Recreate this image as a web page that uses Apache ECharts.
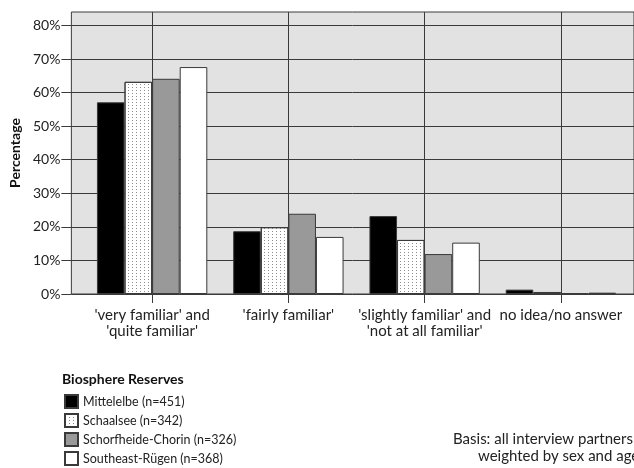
<!DOCTYPE html>
<html><head><meta charset="utf-8">
<script src="https://cdn.jsdelivr.net/npm/echarts@6/dist/echarts.min.js"></script>
<style>html,body{margin:0;padding:0;background:#fff}#c{width:634px;height:468px}</style>
</head><body><div id="c"></div>
<script>
const categories = ["'very familiar' and\n'quite familiar'", "'fairly familiar'", "'slightly familiar' and\n'not at all familiar'", "no idea/no answer"];
const seriesNames = ["Mittelelbe (n=451)", "Schaalsee (n=342)", "Schorfheide-Chorin (n=326)", "Southeast-Rügen (n=368)"];
const mittelelbe = [57.1, 18.7, 23.2, 1.3];
const schaalsee = [63.2, 19.9, 16.1, 0.6];
const schorfheide = [64.1, 23.9, 11.9, 0.2];
const ruegen = [67.6, 17.0, 15.3, 0.4];
const yTicks = [0, 10, 20, 30, 40, 50, 60, 70, 80];

const FONT = 'Lato';
const chart = echarts.init(document.getElementById('c'), null, {renderer: 'canvas'});
const border = {borderColor: '#3a3a3a', borderWidth: 1};
function bar(name, data, style) {
  return {name, type: 'bar', data, xAxisIndex: 1, yAxisIndex: 1,
    barGap: '0%', barCategoryGap: '19%',
    itemStyle: Object.assign({}, border, style), emphasis: {disabled: true}};
}
chart.setOption({
  animation: false,
  textStyle: {fontFamily: FONT},
  title: {text: 'Biosphere Reserves', left: 62, top: 372, padding: 0,
    textStyle: {fontFamily: FONT, fontSize: 14, fontWeight: 'bold', color: '#111'}},
  legend: {orient: 'vertical', left: 64, top: 394, itemWidth: 13, itemHeight: 13, itemGap: 4,
    padding: 0, icon: 'rect', selectedMode: false, height: 120,
    textStyle: {fontFamily: FONT, fontSize: 12.5, color: '#222'},
    data: seriesNames},
  grid: [
    {left: 68, right: 0, top: 12, height: 282, show: true, backgroundColor: '#e2e2e2', borderColor: '#3a3a3a', borderWidth: 1},
    {left: 84, width: 545, top: 12, height: 282}
  ],
  xAxis: [
    {type: 'value', gridIndex: 0, show: false, min: 0, max: 1},
    {type: 'category', gridIndex: 1, data: categories,
      axisLine: {show: false},
      axisTick: {show: true, alignWithLabel: true, length: 9, lineStyle: {color: '#3a3a3a'}},
      splitLine: {show: true, alignWithLabel: true, lineStyle: {color: '#3a3a3a', width: 1}},
      axisLabel: {margin: 13, fontFamily: FONT, fontSize: 15, color: '#222', lineHeight: 16, interval: 0}}
  ],
  yAxis: [
    {type: 'value', gridIndex: 0, min: 0, max: 84, interval: 10,
      name: 'Percentage', nameLocation: 'middle', nameGap: 44, nameRotate: 90,
      nameTextStyle: {fontFamily: FONT, fontSize: 14, fontWeight: 'bold', color: '#111'},
      axisLine: {show: false},
      axisTick: {show: true, length: 10, customValues: yTicks, lineStyle: {color: '#3a3a3a'}},
      axisLabel: {margin: 11, customValues: yTicks, formatter: v => v + '%', fontFamily: FONT, fontSize: 14, color: '#222'},
      splitLine: {show: true, lineStyle: {color: '#3a3a3a', width: 1}}},
    {type: 'value', gridIndex: 1, min: 0, max: 84, show: false}
  ],
  graphic: [
    {type: 'text', left: 453, top: 432, style: {text: 'Basis: all interview partners', font: '15px ' + FONT, fill: '#222'}},
    {type: 'text', left: 478, top: 449, style: {text: 'weighted by sex and age', font: '15px ' + FONT, fill: '#222'}}
  ],
  series: [
    bar(seriesNames[0], mittelelbe, {color: '#000000'}),
    bar(seriesNames[1], schaalsee, {color: '#ffffff', decal: {symbol: 'rect', symbolSize: 1, dashArrayX: [1, 3], dashArrayY: [1, 2], color: '#8a8a8a', rotation: 0}}),
    bar(seriesNames[2], schorfheide, {color: '#999999'}),
    bar(seriesNames[3], ruegen, {color: '#ffffff'})
  ]
});
</script></body></html>
